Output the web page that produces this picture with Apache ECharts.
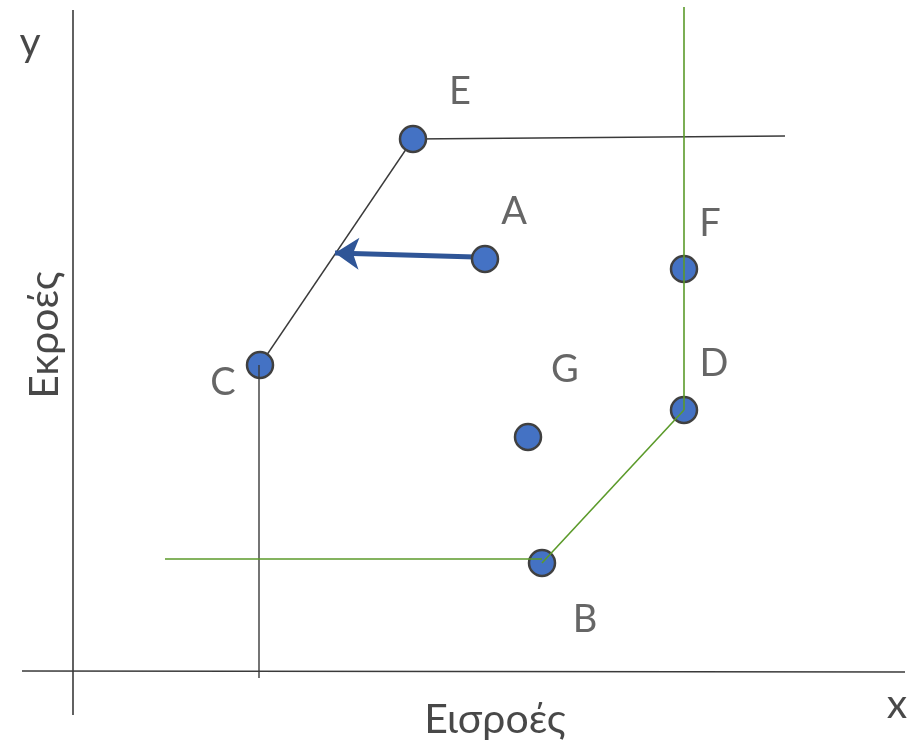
<!doctype html>
<html lang="el">
<head>
    <meta charset="utf-8">
    <title>Εισροές - Εκροές</title>
    <script src="https://cdn.jsdelivr.net/npm/echarts@6/dist/echarts.min.js"></script>
    <style>
        html, body {margin: 0; padding: 0; background: #fff;}
        #chart {width: 908px; height: 744px;}
    </style>
</head>
<body>
<div id="chart"></div>
<script>
    // units: origin at the axes crossing, one unit = 10 px of the picture
    const pointNames = ['E', 'A', 'F', 'C', 'D', 'G', 'B'];
    const pointX = [34.0, 41.2, 61.1, 18.7, 61.1, 45.5, 46.9];
    const pointY = [53.3, 41.3, 40.3, 30.7, 26.2, 23.5, 10.9];

    // label positions of the point names
    const labelX = [38.7, 44.1, 63.7, 15.0, 64.1, 49.2, 51.2];
    const labelY = [58.0, 46.0, 44.8, 28.9, 30.8, 30.2, 5.2];

    // axes drawn as plain segments
    const axisSegs = [
        [[0, 66.2], [0, -4.3]],
        [[-5.1, 0.1], [83.2, 0]]
    ];
    // black frontier (E, C)
    const blackSegs = [
        [[34.0, 53.3], [71.2, 53.6]],
        [[34.0, 53.3], [18.7, 30.7]]
    ];
    const blackDrop = [[18.6, 30.7], [18.6, -0.6]];
    // green frontier (F, D, B)
    const greenSegs = [
        [[61.1, 66.5], [61.1, 26.2]],
        [[61.1, 26.2], [46.9, 10.9]],
        [[46.9, 11.3], [9.2, 11.3]]
    ];
    // projection arrow from A
    const arrowFrom = [40.2, 41.5];
    const arrowTo = [26.2, 41.9];

    const axisTitles = [
        {name: 'y', value: [-4.3, 62.9], rotate: 0},
        {name: 'x', value: [82.4, -3.3], rotate: 0},
        {name: 'Εισροές', value: [42.2, -4.8], rotate: 0},
        {name: 'Εκροές', value: [-2.8, 33.7], rotate: 90}
    ];

    const FONT = 'Lato, "Open Sans", sans-serif';
    const TXT = '#404040';

    function segSeries(segs, color, width, z) {
        return segs.map(function (s) {
            return {
                type: 'line',
                data: s,
                symbol: 'none',
                silent: true,
                lineStyle: {color: color, width: width},
                z: z
            };
        });
    }

    let chart = echarts.init(document.getElementById('chart'));

    chart.setOption({
        animation: false,
        grid: {left: 0, right: 0, top: 0, bottom: 0},
        xAxis: {type: 'value', min: -7.3, max: 83.5, show: false},
        yAxis: {type: 'value', min: -7.2, max: 67.2, show: false},
        series: [].concat(
            segSeries(axisSegs, '#3a3a3a', 1.6, 1),
            segSeries(blackSegs, '#3a3a3a', 1.4, 1),
            segSeries([blackDrop], '#3a3a3a', 1.4, 5),
            segSeries(greenSegs, '#5B9A2A', 1.6, 5),
            [{
                type: 'lines',
                coordinateSystem: 'cartesian2d',
                polyline: false,
                symbol: ['none', 'arrow'],
                symbolSize: [0, 24],
                lineStyle: {color: '#2F5597', width: 5, opacity: 1},
                data: [{coords: [arrowFrom, arrowTo]}],
                z: 2
            }, {
                type: 'scatter',
                symbol: 'circle',
                symbolSize: 26,
                itemStyle: {color: '#4472C4', borderColor: '#404040', borderWidth: 2.5, opacity: 1},
                data: pointX.map(function (x, i) { return [x, pointY[i]]; }),
                z: 3
            }, {
                type: 'scatter',
                symbolSize: 0,
                silent: true,
                label: {
                    show: true, position: 'inside',
                    formatter: function (p) { return pointNames[p.dataIndex]; },
                    color: TXT, fontFamily: FONT, fontSize: 38
                },
                data: labelX.map(function (x, i) { return [x, labelY[i]]; }),
                z: 6
            }, {
                type: 'scatter',
                symbolSize: 0,
                silent: true,
                label: {
                    show: true, position: 'inside',
                    formatter: '{b}',
                    color: '#1a1a1a', fontFamily: FONT, fontSize: 41
                },
                data: axisTitles.map(function (t) {
                    return {name: t.name, value: t.value, label: {rotate: t.rotate}};
                }),
                z: 6
            }]
        )
    });

    window.onresize = function () {
        chart.resize();
    };
</script>
</body>
</html>
